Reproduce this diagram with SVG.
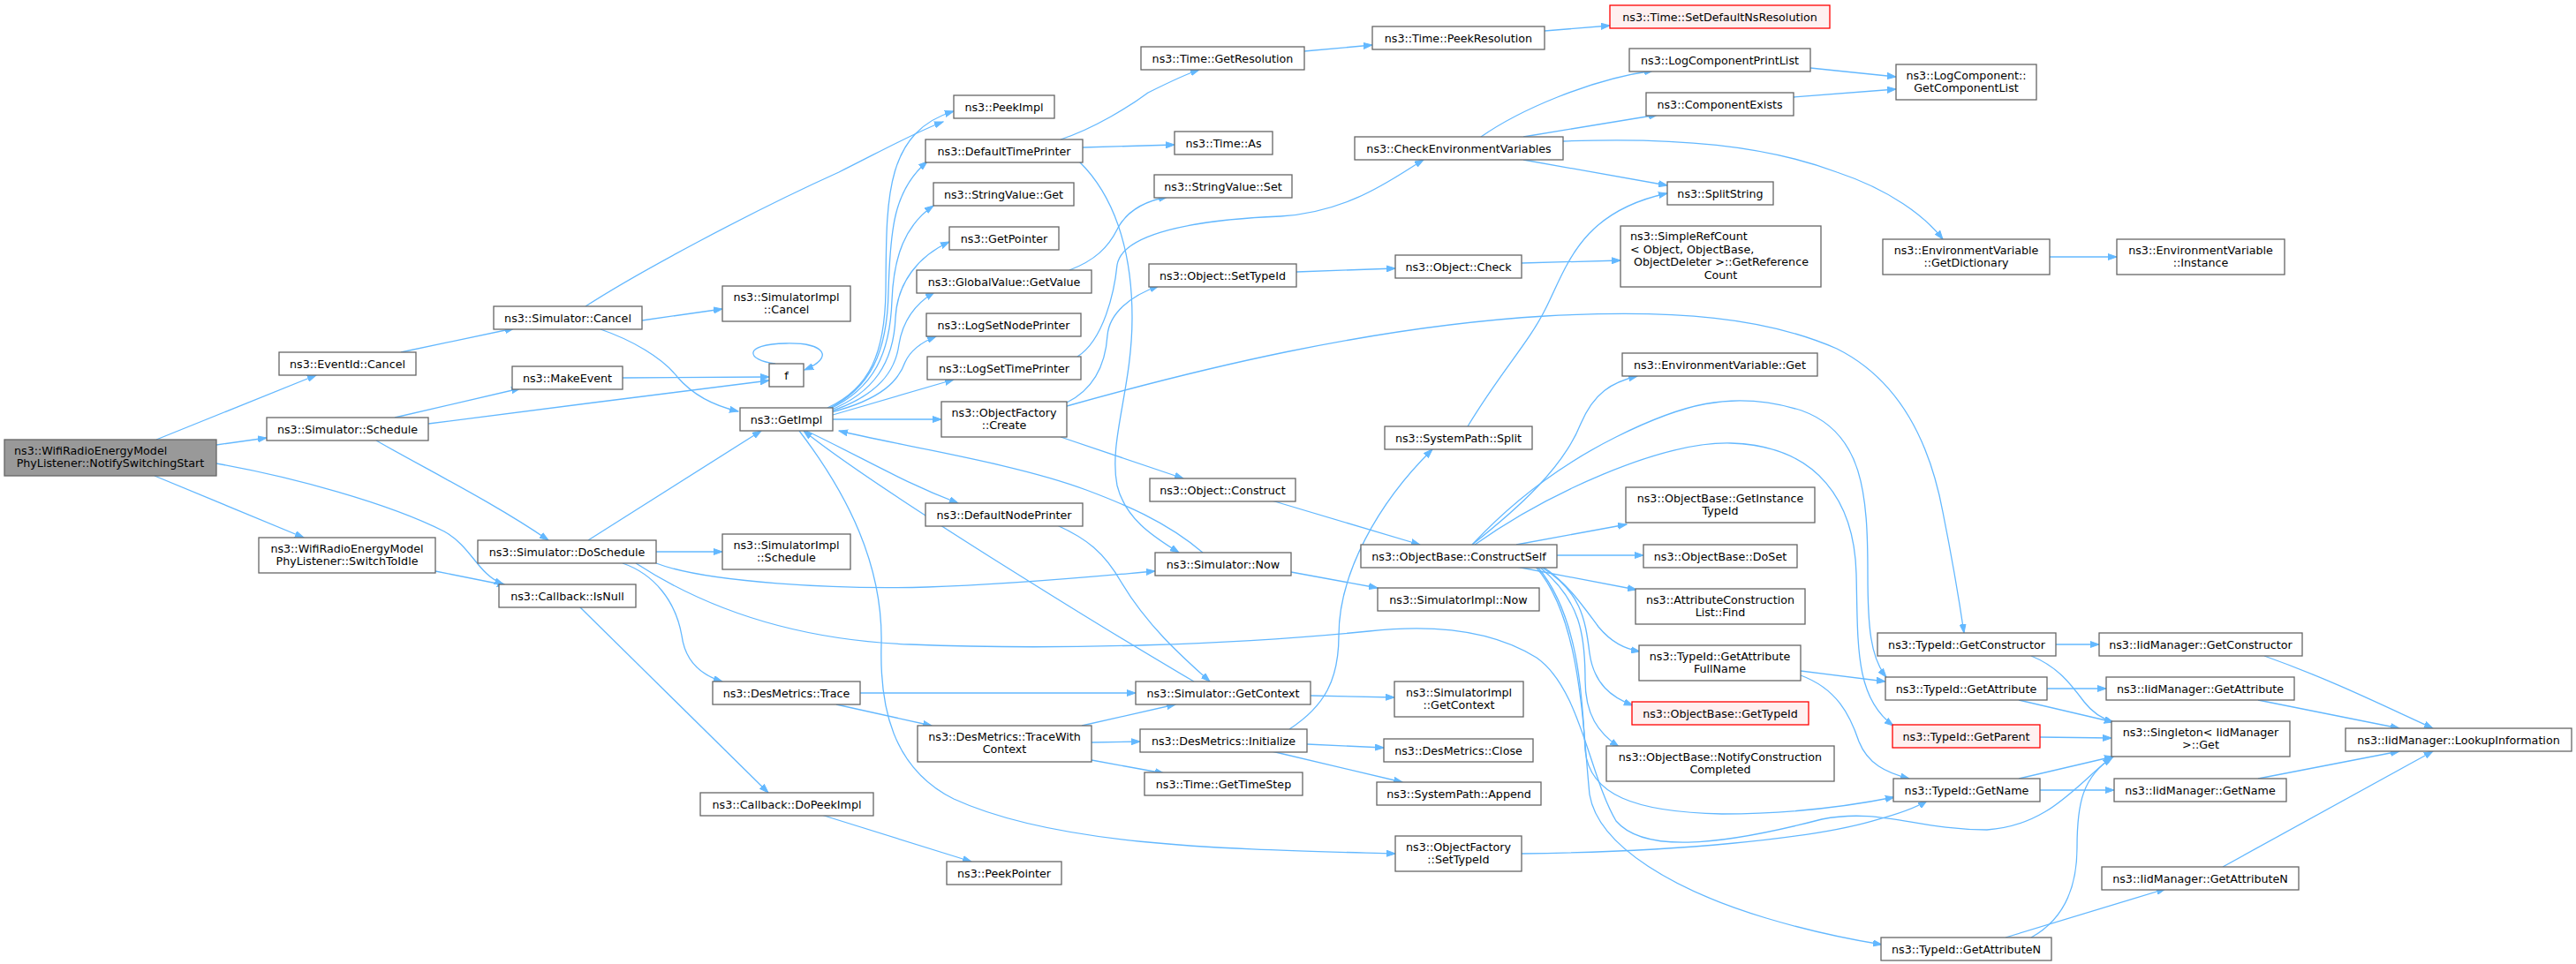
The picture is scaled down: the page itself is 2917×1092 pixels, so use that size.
<svg xmlns="http://www.w3.org/2000/svg" width="2917" height="1092" viewBox="0 0 2917 1092">
<defs>
<style>
.node rect{fill:#ffffff;stroke:#666666;stroke-width:1.3}
.node.root rect{fill:#999999}
.node.red rect{fill:#fff0f0;stroke:#ff0000}
text{font-family:"DejaVu Sans","Liberation Sans",sans-serif;font-size:12.7px;fill:#000000;text-anchor:middle}
text.l{text-anchor:start}
.edges path{fill:none;stroke:#63b8ff;stroke-width:1.3;marker-end:url(#a)}
</style>
<marker id="a" viewBox="0 0 11 8" markerWidth="11" markerHeight="8" refX="10" refY="4" orient="auto" markerUnits="userSpaceOnUse">
<path d="M0,0.5 L10,4 L0,7.5 z" fill="#63b8ff" stroke="#63b8ff" stroke-width="1"/>
</marker>
</defs>
<rect x="0" y="0" width="2917" height="1092" fill="#ffffff"/>
<g class="edges">
<path d="M177,498 L358,425"/>
<path d="M245,504 L302,496"/>
<path d="M175,539 L344,609"/>
<path d="M245,525 C330,540 440,570 503,602 C535,620 540,650 570,662"/>
<path d="M493,647 L573,663"/>
<path d="M454,399 L582,372"/>
<path d="M663,347 C720,310 850,240 950,195 C1000,170 1040,148 1068,138"/>
<path d="M727,363 L818,350"/>
<path d="M680,373 C715,385 750,405 767,427 C785,448 810,460 836,466"/>
<path d="M447,473 L589,440"/>
<path d="M485,480 C600,465 760,445 871,431"/>
<path d="M705,428 L871,427"/>
<path d="M426,499 C480,530 560,570 621,612"/>
<path d="M666,612 L862,488"/>
<path d="M743,625 L818,625"/>
<path d="M743,638 C800,660 950,668 1050,665 C1150,662 1250,652 1308,647"/>
<path d="M705,638 C740,650 765,680 772,720 C776,750 795,765 818,772"/>
<path d="M720,638 C800,690 900,725 1031,730 C1200,737 1400,730 1550,715 C1640,705 1700,720 1740,745 C1790,780 1800,880 1830,930 C1860,965 1940,960 2063,928 C2130,915 2170,940 2250,940 C2320,935 2350,890 2391,858"/>
<path d="M1723,967 C1900,965 2050,950 2120,930 C2150,922 2170,915 2182,907"/>
<path d="M937,462 C985,440 1002,400 1003,330 C1004,230 1000,150 1080,126"/>
<path d="M938,463 C985,440 1005,400 1006,330 C1008,260 1012,215 1050,183"/>
<path d="M938,464 C990,440 1008,400 1010,340 C1012,290 1025,255 1057,233"/>
<path d="M939,465 C990,445 1012,410 1014,360 C1016,320 1040,290 1075,274"/>
<path d="M940,466 C995,448 1014,420 1018,390 C1022,365 1035,345 1058,331"/>
<path d="M941,467 C1000,452 1018,430 1025,410 C1032,395 1045,387 1060,381"/>
<path d="M943,470 L1080,430"/>
<path d="M943,475 L1066,475"/>
<path d="M913,488 C980,520 1020,545 1085,570"/>
<path d="M905,488 C960,560 1000,640 998,730 C996,800 1010,870 1080,905 C1200,960 1400,962 1580,967"/>
<path d="M1352,772 C1280,730 1000,560 910,488"/>
<path d="M1362,626 C1320,590 1270,570 1230,555 C1150,525 1020,505 950,488"/>
<path d="M1201,158 C1240,145 1280,120 1300,105 C1320,95 1340,85 1358,79"/>
<path d="M1226,167 L1330,164"/>
<path d="M1222,183 C1260,220 1282,280 1282,360 C1282,440 1255,500 1265,550 C1275,590 1310,610 1335,626"/>
<path d="M1211,306 C1240,295 1255,280 1265,260 C1275,240 1295,228 1322,223"/>
<path d="M1220,404 C1250,385 1262,330 1265,300 C1270,270 1330,250 1450,245 C1530,240 1580,200 1612,181"/>
<path d="M1208,456 C1240,440 1252,410 1254,380 C1256,355 1280,335 1312,324"/>
<path d="M1201,495 L1340,542"/>
<path d="M1208,460 C1350,420 1550,370 1750,358 C1900,350 2000,360 2080,395 C2150,430 2185,500 2200,580 C2212,640 2220,690 2224,717"/>
<path d="M1477,58 L1554,51"/>
<path d="M1749,35 L1823,29"/>
<path d="M1468,308 L1580,304"/>
<path d="M1723,298 L1835,295"/>
<path d="M1677,155 C1720,125 1800,90 1872,80"/>
<path d="M1725,155 L1877,130"/>
<path d="M1725,181 L1888,210"/>
<path d="M1770,160 C1900,155 2000,165 2080,195 C2140,215 2180,245 2200,271"/>
<path d="M2050,77 L2147,87"/>
<path d="M2031,110 L2147,101"/>
<path d="M2321,291 L2397,291"/>
<path d="M1662,483 C1700,420 1730,390 1750,350 C1775,300 1790,240 1888,219"/>
<path d="M1460,826 C1500,800 1516,770 1516,720 C1516,650 1560,570 1622,509"/>
<path d="M1480,843 L1567,847"/>
<path d="M1440,851 L1588,886"/>
<path d="M1225,822 L1331,798"/>
<path d="M1236,841 L1291,840"/>
<path d="M1236,861 L1318,876"/>
<path d="M974,785 L1286,785"/>
<path d="M947,798 L1055,822"/>
<path d="M1484,788 L1579,790"/>
<path d="M1462,648 L1560,666"/>
<path d="M1197,595 C1230,610 1250,625 1270,660 C1300,710 1340,745 1370,772"/>
<path d="M1440,567 L1608,617"/>
<path d="M1667,617 C1720,575 1770,530 1790,480 C1805,445 1825,433 1854,426"/>
<path d="M1667,617 C1720,560 1780,520 1830,495 C1900,460 1960,440 2040,465 C2110,490 2115,560 2115,650 C2115,710 2118,745 2136,767"/>
<path d="M1670,617 C1750,560 1880,500 1960,502 C2060,505 2100,570 2102,650 C2104,730 2100,790 2144,822"/>
<path d="M1717,617 L1842,594"/>
<path d="M1763,629 L1861,629"/>
<path d="M1717,642 L1853,668"/>
<path d="M1747,642 C1775,660 1795,690 1810,710 C1825,728 1840,735 1857,738"/>
<path d="M1745,642 C1790,670 1795,700 1800,740 C1805,775 1825,790 1849,799"/>
<path d="M1743,642 C1790,680 1795,720 1795,770 C1795,810 1810,830 1833,846"/>
<path d="M1741,642 C1790,700 1792,800 1795,850 C1800,900 1850,920 1950,922 C2030,922 2100,912 2145,903"/>
<path d="M1739,642 C1790,700 1792,820 1800,900 C1810,960 1900,1010 2000,1040 C2060,1058 2100,1065 2131,1070"/>
<path d="M2039,760 L2135,772"/>
<path d="M2039,765 C2080,780 2095,810 2105,840 C2115,865 2135,875 2162,882"/>
<path d="M2328,730 L2377,730"/>
<path d="M2300,743 C2330,755 2345,775 2360,795 C2370,808 2380,814 2393,818"/>
<path d="M2318,780 L2385,780"/>
<path d="M2286,793 L2393,818"/>
<path d="M2310,835 L2391,836"/>
<path d="M2286,882 L2393,857"/>
<path d="M2310,895 L2394,895"/>
<path d="M2271,1062 L2452,1007"/>
<path d="M2300,1062 C2340,1040 2352,1000 2352,960 C2352,910 2358,880 2393,857"/>
<path d="M2564,743 C2640,770 2700,800 2755,825"/>
<path d="M2557,793 L2717,825"/>
<path d="M2557,882 L2717,851"/>
<path d="M2517,982 L2755,851"/>
<path d="M656,687 L870,898"/>
<path d="M930,923 L1100,976"/>
<path d="M878,412 C845,408 840,390 890,389 C935,388 945,405 911,419"/>
</g>
<g id="n0" class="node root"><rect x="5" y="498" width="240" height="41"/><text class="l" x="16" y="514.5">ns3::WifiRadioEnergyModel</text><text x="125" y="528.5">PhyListener::NotifySwitchingStart</text></g>
<g id="n_eventid_cancel" class="node"><rect x="316" y="399" width="155" height="26"/><text x="393.5" y="416.5">ns3::EventId::Cancel</text></g>
<g id="n_sim_schedule" class="node"><rect x="302" y="473" width="183" height="26"/><text x="393.5" y="490.5">ns3::Simulator::Schedule</text></g>
<g id="n_switch_idle" class="node"><rect x="293" y="609" width="200" height="40"/><text x="393" y="625.5">ns3::WifiRadioEnergyModel</text><text x="393" y="639.5">PhyListener::SwitchToIdle</text></g>
<g id="n_sim_cancel" class="node"><rect x="559" y="347" width="168" height="26"/><text x="643" y="364.5">ns3::Simulator::Cancel</text></g>
<g id="n_make_event" class="node"><rect x="580" y="415" width="125" height="26"/><text x="642.5" y="432.5">ns3::MakeEvent</text></g>
<g id="n_do_schedule" class="node"><rect x="541" y="612" width="202" height="26"/><text x="642" y="629.5">ns3::Simulator::DoSchedule</text></g>
<g id="n_isnull" class="node"><rect x="565" y="662" width="155" height="26"/><text x="642.5" y="679.5">ns3::Callback::IsNull</text></g>
<g id="n_simimpl_cancel" class="node"><rect x="818" y="324" width="145" height="40"/><text x="890.5" y="340.5">ns3::SimulatorImpl</text><text x="890.5" y="354.5">::Cancel</text></g>
<g id="n_f" class="node"><rect x="871" y="412" width="39" height="26"/><text x="890.5" y="429.5">f</text></g>
<g id="n_getimpl" class="node"><rect x="838" y="462" width="105" height="26"/><text x="890.5" y="479.5">ns3::GetImpl</text></g>
<g id="n_simimpl_schedule" class="node"><rect x="818" y="605" width="145" height="40"/><text x="890.5" y="621.5">ns3::SimulatorImpl</text><text x="890.5" y="635.5">::Schedule</text></g>
<g id="n_des_trace" class="node"><rect x="807" y="772" width="167" height="26"/><text x="890.5" y="789.5">ns3::DesMetrics::Trace</text></g>
<g id="n_dopeek" class="node"><rect x="793" y="898" width="196" height="26"/><text x="891" y="915.5">ns3::Callback::DoPeekImpl</text></g>
<g id="n_peekptr" class="node"><rect x="1072" y="976" width="130" height="26"/><text x="1137" y="993.5">ns3::PeekPointer</text></g>
<g id="n_des_twc" class="node"><rect x="1039" y="822" width="197" height="41"/><text x="1137.5" y="838.5">ns3::DesMetrics::TraceWith</text><text x="1137.5" y="852.5">Context</text></g>
<g id="n_peekimpl" class="node"><rect x="1080" y="108" width="114" height="26"/><text x="1137" y="125.5">ns3::PeekImpl</text></g>
<g id="n_def_time_printer" class="node"><rect x="1048" y="158" width="178" height="26"/><text x="1137" y="175.5">ns3::DefaultTimePrinter</text></g>
<g id="n_sv_get" class="node"><rect x="1057" y="207" width="159" height="26"/><text x="1136.5" y="224.5">ns3::StringValue::Get</text></g>
<g id="n_getpointer" class="node"><rect x="1075" y="257" width="124" height="26"/><text x="1137" y="274.5">ns3::GetPointer</text></g>
<g id="n_gv_getvalue" class="node"><rect x="1038" y="306" width="198" height="26"/><text x="1137" y="323.5">ns3::GlobalValue::GetValue</text></g>
<g id="n_logsetnode" class="node"><rect x="1049" y="355" width="175" height="26"/><text x="1136.5" y="372.5">ns3::LogSetNodePrinter</text></g>
<g id="n_logsettime" class="node"><rect x="1050" y="404" width="174" height="26"/><text x="1137" y="421.5">ns3::LogSetTimePrinter</text></g>
<g id="n_of_create" class="node"><rect x="1066" y="455" width="142" height="40"/><text x="1137" y="471.5">ns3::ObjectFactory</text><text x="1137" y="485.5">::Create</text></g>
<g id="n_def_node_printer" class="node"><rect x="1048" y="570" width="178" height="26"/><text x="1137" y="587.5">ns3::DefaultNodePrinter</text></g>
<g id="n_time_getres" class="node"><rect x="1292" y="53" width="185" height="26"/><text x="1384.5" y="70.5">ns3::Time::GetResolution</text></g>
<g id="n_time_as" class="node"><rect x="1330" y="149" width="111" height="26"/><text x="1385.5" y="166.5">ns3::Time::As</text></g>
<g id="n_sv_set" class="node"><rect x="1307" y="198" width="156" height="26"/><text x="1385" y="215.5">ns3::StringValue::Set</text></g>
<g id="n_obj_settypeid" class="node"><rect x="1301" y="299" width="167" height="26"/><text x="1384.5" y="316.5">ns3::Object::SetTypeId</text></g>
<g id="n_obj_construct" class="node"><rect x="1302" y="542" width="165" height="26"/><text x="1384.5" y="559.5">ns3::Object::Construct</text></g>
<g id="n_sim_now" class="node"><rect x="1308" y="626" width="154" height="26"/><text x="1385" y="643.5">ns3::Simulator::Now</text></g>
<g id="n_sim_getcontext" class="node"><rect x="1286" y="772" width="198" height="26"/><text x="1385" y="789.5">ns3::Simulator::GetContext</text></g>
<g id="n_des_init" class="node"><rect x="1291" y="826" width="189" height="26"/><text x="1385.5" y="843.5">ns3::DesMetrics::Initialize</text></g>
<g id="n_time_getts" class="node"><rect x="1296" y="875" width="179" height="26"/><text x="1385.5" y="892.5">ns3::Time::GetTimeStep</text></g>
<g id="n_time_peekres" class="node"><rect x="1554" y="30" width="195" height="26"/><text x="1651.5" y="47.5">ns3::Time::PeekResolution</text></g>
<g id="n_check_env" class="node"><rect x="1534" y="155" width="236" height="26"/><text x="1652" y="172.5">ns3::CheckEnvironmentVariables</text></g>
<g id="n_obj_check" class="node"><rect x="1580" y="289" width="143" height="26"/><text x="1651.5" y="306.5">ns3::Object::Check</text></g>
<g id="n_sp_split" class="node"><rect x="1568" y="483" width="167" height="26"/><text x="1651.5" y="500.5">ns3::SystemPath::Split</text></g>
<g id="n_ob_construct" class="node"><rect x="1541" y="617" width="222" height="26"/><text x="1652" y="634.5">ns3::ObjectBase::ConstructSelf</text></g>
<g id="n_simimpl_now" class="node"><rect x="1560" y="666" width="183" height="26"/><text x="1651.5" y="683.5">ns3::SimulatorImpl::Now</text></g>
<g id="n_simimpl_getctx" class="node"><rect x="1579" y="772" width="146" height="40"/><text x="1652" y="788.5">ns3::SimulatorImpl</text><text x="1652" y="802.5">::GetContext</text></g>
<g id="n_des_close" class="node"><rect x="1567" y="837" width="169" height="26"/><text x="1651.5" y="854.5">ns3::DesMetrics::Close</text></g>
<g id="n_sp_append" class="node"><rect x="1559" y="886" width="186" height="26"/><text x="1652" y="903.5">ns3::SystemPath::Append</text></g>
<g id="n_of_settypeid" class="node"><rect x="1580" y="947" width="143" height="40"/><text x="1651.5" y="963.5">ns3::ObjectFactory</text><text x="1651.5" y="977.5">::SetTypeId</text></g>
<g id="n_time_setdef" class="node red"><rect x="1823" y="6" width="249" height="26"/><text x="1947.5" y="23.5">ns3::Time::SetDefaultNsResolution</text></g>
<g id="n_logcomp_printlist" class="node"><rect x="1845" y="55" width="205" height="26"/><text x="1947.5" y="72.5">ns3::LogComponentPrintList</text></g>
<g id="n_comp_exists" class="node"><rect x="1864" y="105" width="167" height="26"/><text x="1947.5" y="122.5">ns3::ComponentExists</text></g>
<g id="n_splitstring" class="node"><rect x="1888" y="206" width="120" height="26"/><text x="1948" y="223.5">ns3::SplitString</text></g>
<g id="n_simplerefcount" class="node"><rect x="1835" y="256" width="227" height="69"/><text class="l" x="1846" y="272">ns3::SimpleRefCount</text><text class="l" x="1846" y="286.5">&lt; Object, ObjectBase,</text><text class="l" x="1850" y="301">ObjectDeleter &gt;::GetReference</text><text x="1948.5" y="315.5">Count</text></g>
<g id="n_envvar_get" class="node"><rect x="1837" y="400" width="221" height="26"/><text x="1947.5" y="417.5">ns3::EnvironmentVariable::Get</text></g>
<g id="n_ob_getinst" class="node"><rect x="1841" y="552" width="214" height="40"/><text x="1948" y="568.5">ns3::ObjectBase::GetInstance</text><text x="1948" y="582.5">TypeId</text></g>
<g id="n_ob_doset" class="node"><rect x="1861" y="617" width="174" height="26"/><text x="1948" y="634.5">ns3::ObjectBase::DoSet</text></g>
<g id="n_acl_find" class="node"><rect x="1852" y="667" width="192" height="40"/><text x="1948" y="683.5">ns3::AttributeConstruction</text><text x="1948" y="697.5">List::Find</text></g>
<g id="n_tid_getattrfull" class="node"><rect x="1856" y="731" width="183" height="40"/><text x="1947.5" y="747.5">ns3::TypeId::GetAttribute</text><text x="1947.5" y="761.5">FullName</text></g>
<g id="n_ob_gettypeid" class="node red"><rect x="1848" y="795" width="200" height="26"/><text x="1948" y="812.5">ns3::ObjectBase::GetTypeId</text></g>
<g id="n_ob_notify" class="node"><rect x="1819" y="845" width="258" height="40"/><text x="1948" y="861.5">ns3::ObjectBase::NotifyConstruction</text><text x="1948" y="875.5">Completed</text></g>
<g id="n_logcomp_getlist" class="node"><rect x="2147" y="73" width="159" height="40"/><text x="2226.5" y="89.5">ns3::LogComponent::</text><text x="2226.5" y="103.5">GetComponentList</text></g>
<g id="n_envvar_getdict" class="node"><rect x="2132" y="271" width="189" height="40"/><text x="2226.5" y="287.5">ns3::EnvironmentVariable</text><text x="2226.5" y="301.5">::GetDictionary</text></g>
<g id="n_tid_getctor" class="node"><rect x="2126" y="717" width="202" height="26"/><text x="2227" y="734.5">ns3::TypeId::GetConstructor</text></g>
<g id="n_tid_getattr" class="node"><rect x="2135" y="767" width="183" height="26"/><text x="2226.5" y="784.5">ns3::TypeId::GetAttribute</text></g>
<g id="n_tid_getparent" class="node red"><rect x="2143" y="821" width="167" height="26"/><text x="2226.5" y="838.5">ns3::TypeId::GetParent</text></g>
<g id="n_tid_getname" class="node"><rect x="2144" y="882" width="166" height="26"/><text x="2227" y="899.5">ns3::TypeId::GetName</text></g>
<g id="n_tid_getattrn" class="node"><rect x="2130" y="1062" width="193" height="26"/><text x="2226.5" y="1079.5">ns3::TypeId::GetAttributeN</text></g>
<g id="n_envvar_inst" class="node"><rect x="2397" y="271" width="190" height="40"/><text x="2492" y="287.5">ns3::EnvironmentVariable</text><text x="2492" y="301.5">::Instance</text></g>
<g id="n_iid_getctor" class="node"><rect x="2377" y="717" width="230" height="26"/><text x="2492" y="734.5">ns3::IidManager::GetConstructor</text></g>
<g id="n_iid_getattr" class="node"><rect x="2385" y="767" width="213" height="26"/><text x="2491.5" y="784.5">ns3::IidManager::GetAttribute</text></g>
<g id="n_singleton" class="node"><rect x="2391" y="817" width="202" height="40"/><text x="2492" y="833.5">ns3::Singleton&lt; IidManager</text><text x="2492" y="847.5">&gt;::Get</text></g>
<g id="n_iid_getname" class="node"><rect x="2394" y="882" width="195" height="26"/><text x="2491.5" y="899.5">ns3::IidManager::GetName</text></g>
<g id="n_iid_getattrn" class="node"><rect x="2380" y="982" width="223" height="26"/><text x="2491.5" y="999.5">ns3::IidManager::GetAttributeN</text></g>
<g id="n_iid_lookup" class="node"><rect x="2656" y="825" width="256" height="26"/><text x="2784" y="842.5">ns3::IidManager::LookupInformation</text></g>
</svg>
